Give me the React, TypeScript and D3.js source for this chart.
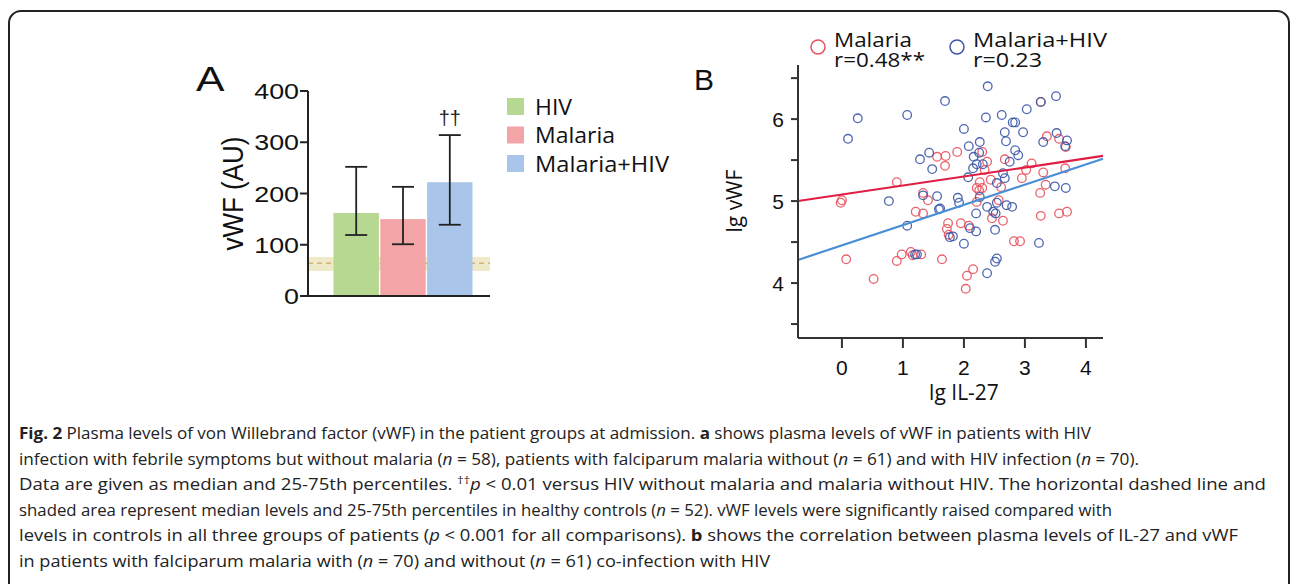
import React from "react";
import * as d3 from "d3";

// ---- panel A data ----
const groups = ["HIV", "Malaria", "Malaria+HIV"];
const medians = [162, 150, 222];
const q25 = [119, 101, 139];
const q75 = [252, 213, 314];
const barColors = ["#b6d890", "#f2a4a7", "#a9c6ea"];
const controlBand = [49, 64, 76]; // 25th, median, 75th in healthy controls
const yTicksA = [0, 100, 200, 300, 400];
const legendWidthsA = [37, 80, 134];

// ---- panel B data: [lg IL-27, lg vWF] ----
const malariaPts = [
  [0.0, 5.01], [-0.02, 4.98], [0.07, 4.29], [0.52, 4.05], [0.9, 5.23], [0.9, 4.27],
  [0.98, 4.35], [1.13, 4.38], [1.16, 4.34], [1.3, 4.35], [1.33, 5.1], [1.41, 5.01],
  [1.21, 4.87], [1.33, 4.85], [1.56, 5.54], [1.7, 5.55], [1.69, 5.43], [1.64, 4.29],
  [1.74, 4.73], [1.72, 4.66], [1.75, 4.59], [1.89, 5.6], [1.95, 4.73], [2.08, 4.7],
  [2.3, 5.6], [2.38, 5.48], [2.34, 5.38], [2.67, 5.51], [3.11, 5.46], [3.02, 5.38],
  [3.3, 5.35], [3.66, 5.4], [2.95, 5.28], [2.61, 5.17], [2.26, 5.23], [2.3, 5.16],
  [2.21, 5.16], [2.44, 5.26], [3.34, 5.2], [3.25, 5.1], [3.26, 6.21], [3.36, 5.79],
  [3.56, 5.76], [3.67, 5.66], [2.21, 4.99], [2.25, 5.13], [2.46, 4.79], [2.57, 5.01],
  [2.64, 4.76], [2.82, 4.51], [2.92, 4.51], [3.26, 4.82], [3.56, 4.85], [3.69, 4.87],
  [2.15, 4.17], [2.05, 4.09], [2.03, 3.93],
];
const coinfPts = [
  [0.1, 5.76], [0.26, 6.01], [1.07, 6.05], [1.69, 6.22], [2.39, 6.4], [2.0, 5.88],
  [2.36, 6.02], [2.62, 6.05], [2.8, 5.96], [2.84, 5.96], [2.67, 5.84], [2.97, 5.84],
  [3.03, 6.12], [3.26, 6.21], [3.51, 6.28], [3.52, 5.83], [3.69, 5.74], [3.66, 5.67],
  [1.28, 5.51], [1.43, 5.59], [1.48, 5.39], [1.33, 5.07], [1.56, 5.06], [0.77, 5.0],
  [1.59, 4.9], [1.07, 4.7], [1.2, 4.35], [1.23, 4.35], [1.77, 4.56], [2.26, 5.72],
  [2.08, 5.67], [2.69, 5.73], [3.3, 5.72], [2.16, 5.54], [2.25, 5.59], [2.21, 5.45],
  [2.31, 5.45], [2.15, 5.4], [2.07, 5.29], [2.84, 5.62], [2.89, 5.56], [2.75, 5.48],
  [2.67, 5.28], [2.64, 5.34], [2.54, 5.22], [3.49, 5.18], [3.67, 5.16], [1.9, 5.04],
  [2.26, 5.05], [1.61, 4.91], [1.82, 4.57], [2.1, 4.67], [2.2, 4.63], [2.0, 4.48],
  [1.92, 4.98], [2.2, 4.85], [2.38, 4.93], [2.48, 4.87], [2.52, 4.85], [2.54, 4.98],
  [2.7, 4.95], [2.79, 4.93], [2.51, 4.65], [3.23, 4.49], [2.54, 4.3], [2.51, 4.26],
  [2.38, 4.12],
];
// regression fits: [intercept, slope]
const malariaFit = [5.08, 0.11];
const coinfFit = [4.46, 0.247];
const xTicksB = [0, 1, 2, 3, 4];
const yTicksB = [4, 5, 6];
const yMinorB = [3.5, 4, 4.5, 5, 5.5, 6, 6.5];
const legendB = [
  { name: "Malaria", r: "r=0.48**", color: "#e8505b", x: 818, w: [78, 91] },
  { name: "Malaria+HIV", r: "r=0.23", color: "#3a55a8", x: 957, w: [134, 69] },
];

// ---- caption ----
type Seg = { t: string; b?: boolean; i?: boolean; sup?: boolean };
const captionLines: { segs: Seg[]; w: number }[] = [
  { w: 1072, segs: [{ t: "Fig. 2", b: true }, { t: " Plasma levels of von Willebrand factor (vWF) in the patient groups at admission. " }, { t: "a", b: true }, { t: " shows plasma levels of vWF in patients with HIV" }] },
  { w: 1120, segs: [{ t: "infection with febrile symptoms but without malaria (" }, { t: "n", i: true }, { t: " = 58), patients with falciparum malaria without (" }, { t: "n", i: true }, { t: " = 61) and with HIV infection (" }, { t: "n", i: true }, { t: " = 70)." }] },
  { w: 1247, segs: [{ t: "Data are given as median and 25-75th percentiles. " }, { t: "††", sup: true }, { t: "p", i: true }, { t: " < 0.01 versus HIV without malaria and malaria without HIV. The horizontal dashed line and" }] },
  { w: 1093, segs: [{ t: "shaded area represent median levels and 25-75th percentiles in healthy controls (" }, { t: "n", i: true }, { t: " = 52). vWF levels were significantly raised compared with" }] },
  { w: 1219, segs: [{ t: "levels in controls in all three groups of patients (" }, { t: "p", i: true }, { t: " < 0.001 for all comparisons). " }, { t: "b", b: true }, { t: " shows the correlation between plasma levels of IL-27 and vWF" }] },
  { w: 751, segs: [{ t: "in patients with falciparum malaria with (" }, { t: "n", i: true }, { t: " = 70) and without (" }, { t: "n", i: true }, { t: " = 61) co-infection with HIV" }] },
];

const SANS = "'Liberation Sans', Arial, sans-serif";
const HUM = "'Open Sans', 'Noto Sans', sans-serif";

export default function App() {
  // panel A scales
  const yA = d3.scaleLinear().domain([0, 400]).range([296, 91]);
  const xA = d3.scaleBand().domain(groups).range([333.5, 472.5]).paddingInner(0.03);
  const axisA = 308;
  const axisAEnd = 490;

  // panel B scales
  const xB = d3.scaleLinear().domain([-0.72, 4.28]).range([798, 1103]);
  const yB = d3.scaleLinear().domain([3.33, 6.66]).range([338, 65]);
  const fitLine = (f: number[]) =>
    d3.line<number>().x((d) => xB(d)).y((d) => yB(f[0] + f[1] * d))(xB.domain());

  const stretch = (x: number, y: number, s = 1.22) => `translate(${x},${y}) scale(${s},1)`;

  return (
    <svg width={1292} height={584} style={{ position: "absolute", left: 0, top: 0, background: "#fff" }}>
      {/* frame */}
      <rect x={9} y={11} width={1280} height={620} rx={12} fill="none" stroke="#222" strokeWidth={2} />

      {/* ---------- Panel A ---------- */}
      <text transform={stretch(196, 91)} fontFamily={SANS} fontSize={35} fill="#111">A</text>
      {/* control band */}
      <rect x={axisA} y={yA(controlBand[2])} width={axisAEnd - axisA} height={yA(controlBand[0]) - yA(controlBand[2])} fill="#efe9c8" />
      <line x1={axisA} x2={axisAEnd} y1={yA(controlBand[1])} y2={yA(controlBand[1])} stroke="#cbb678" strokeWidth={1.5} strokeDasharray="5,4" />
      {/* bars */}
      {groups.map((g, i) => (
        <rect key={g} x={xA(g)} y={yA(medians[i])} width={xA.bandwidth()} height={yA(0) - yA(medians[i])} fill={barColors[i]} />
      ))}
      {/* error bars */}
      {groups.map((g, i) => {
        const cx = (xA(g) as number) + xA.bandwidth() / 2;
        return (
          <g key={g} stroke="#222" strokeWidth={1.8}>
            <line x1={cx} x2={cx} y1={yA(q25[i])} y2={yA(q75[i])} />
            <line x1={cx - 11} x2={cx + 11} y1={yA(q25[i])} y2={yA(q25[i])} />
            <line x1={cx - 11} x2={cx + 11} y1={yA(q75[i])} y2={yA(q75[i])} />
          </g>
        );
      })}
      <text x={(xA("Malaria+HIV") as number) + xA.bandwidth() / 2} y={125} textAnchor="middle" fontFamily={SANS} fontSize={20} fill="#222">††</text>
      {/* axes */}
      <line x1={axisA} x2={axisA} y1={yA(400)} y2={yA(0)} stroke="#222" strokeWidth={2} />
      <line x1={axisA} x2={axisAEnd} y1={yA(0)} y2={yA(0)} stroke="#222" strokeWidth={2} />
      {yTicksA.map((t) => (
        <g key={t}>
          <line x1={axisA - 8} x2={axisA} y1={yA(t)} y2={yA(t)} stroke="#222" strokeWidth={2} />
          <text transform={stretch(299, yA(t) + 8)} textAnchor="end" fontFamily={SANS} fontSize={22} fill="#111">{t}</text>
        </g>
      ))}
      <text transform={`translate(243,${yA(200)}) rotate(-90) scale(1,1.15)`} textAnchor="middle" fontFamily={SANS} fontSize={26} fill="#111">vWF (AU)</text>
      {/* legend A */}
      {groups.map((g, i) => (
        <g key={g}>
          <rect x={507} y={98 + i * 28.5} width={17} height={17} fill={barColors[i]} />
          <text x={535} y={107 + i * 28.5} dy="0.36em" fontFamily={HUM} fontSize={21.5} fill="#111" textLength={legendWidthsA[i]} lengthAdjust="spacingAndGlyphs">{g}</text>
        </g>
      ))}

      {/* ---------- Panel B ---------- */}
      <text x={694} y={90} fontFamily={SANS} fontSize={30} fill="#111">B</text>
      {/* legend B: two-line labels */}
      {legendB.map((l) => (
        <g key={l.name}>
          <circle cx={l.x} cy={47} r={7} fill="none" stroke={l.color} strokeWidth={1.5} />
          <text fontFamily={HUM} fontSize={19.5} fill="#111">
            <tspan x={l.x + 16} y={47} textLength={l.w[0]} lengthAdjust="spacingAndGlyphs">{l.name}</tspan>
            <tspan x={l.x + 16} y={67} textLength={l.w[1]} lengthAdjust="spacingAndGlyphs">{l.r}</tspan>
          </text>
        </g>
      ))}

      {/* points */}
      {malariaPts.map((d, i) => (
        <circle key={"m" + i} cx={xB(d[0])} cy={yB(d[1])} r={4.3} fill="none" stroke="#e8505b" strokeOpacity={0.9} strokeWidth={1.3} />
      ))}
      {coinfPts.map((d, i) => (
        <circle key={"c" + i} cx={xB(d[0])} cy={yB(d[1])} r={4.3} fill="none" stroke="#3a55a8" strokeOpacity={0.9} strokeWidth={1.3} />
      ))}
      <path d={fitLine(coinfFit) as string} fill="none" stroke="#4a8fd6" strokeWidth={2.2} />
      <path d={fitLine(malariaFit) as string} fill="none" stroke="#e01d44" strokeWidth={2.2} />

      {/* axes B */}
      <line x1={xB.range()[0]} x2={xB.range()[0]} y1={yB.range()[1]} y2={yB.range()[0]} stroke="#333" strokeWidth={2} />
      <line x1={xB.range()[0]} x2={xB.range()[1]} y1={yB.range()[0]} y2={yB.range()[0]} stroke="#333" strokeWidth={2} />
      {yMinorB.map((t) => (
        <line key={t} x1={xB.range()[0] - 7} x2={xB.range()[0]} y1={yB(t)} y2={yB(t)} stroke="#333" strokeWidth={2} />
      ))}
      {yTicksB.map((t) => (
        <text key={t} x={784} y={yB(t)} dy="0.36em" textAnchor="end" fontFamily={SANS} fontSize={21} fill="#111">{t}</text>
      ))}
      {xTicksB.map((t) => (
        <g key={t}>
          <line x1={xB(t)} x2={xB(t)} y1={yB.range()[0]} y2={yB.range()[0] + 10} stroke="#333" strokeWidth={2} />
          <text x={xB(t)} y={367} dy="0.36em" textAnchor="middle" fontFamily={SANS} fontSize={21} fill="#111">{t}</text>
        </g>
      ))}
      <text x={964} y={392} dy="0.36em" textAnchor="middle" fontFamily={HUM} fontSize={21} fill="#111">lg IL-27</text>
      <text transform={`translate(734,${yB(5)}) rotate(-90)`} dy="0.36em" textAnchor="middle" fontFamily={HUM} fontSize={21} fill="#111">lg vWF</text>

      {/* ---------- caption ---------- */}
      {captionLines.map((ln, li) => (
        <text key={li} x={19} y={439 + li * 25.6} fontFamily={HUM} fontSize={16.5} fill="#222" textLength={ln.w} lengthAdjust="spacingAndGlyphs">
          {ln.segs.map((s, si) => {
            const prevSup = si > 0 && ln.segs[si - 1].sup;
            return (
              <tspan key={si} fontWeight={s.b ? 700 : 400} fontStyle={s.i ? "italic" : "normal"} fontSize={s.sup ? 11 : undefined} dy={s.sup ? -6 : prevSup ? 6 : undefined}>{s.t}</tspan>
            );
          })}
        </text>
      ))}
    </svg>
  );
}
